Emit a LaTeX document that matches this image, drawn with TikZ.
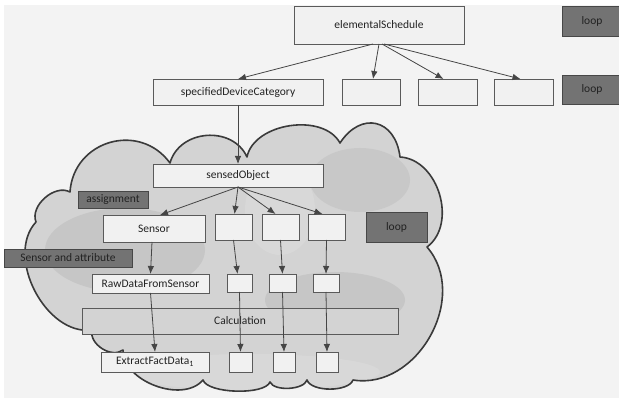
\documentclass[tikz,border=0pt]{standalone}
\usepackage{fontspec}
\setmainfont{Carlito}
\usetikzlibrary{arrows.meta}
\definecolor{bg}{HTML}{F3F3F3}
\definecolor{cloudfill}{HTML}{D3D3D3}
\definecolor{cloudline}{HTML}{3A3A3A}
\definecolor{blobdark}{HTML}{BCBCBC}
\definecolor{bloblight}{HTML}{DCDCDC}
\definecolor{boxfill}{HTML}{F1F1F1}
\definecolor{boxline}{HTML}{5A5A5A}
\definecolor{calcfill}{HTML}{D3D3D3}
\definecolor{darkfill}{HTML}{737373}
\definecolor{darkline}{HTML}{474747}
\definecolor{arrowcol}{HTML}{454545}
\definecolor{txt}{HTML}{222222}
\begin{document}
\begin{tikzpicture}[x=1pt,y=-1pt,
  font=\fontsize{11.5}{13}\selectfont,
  lbox/.style={draw=boxline, fill=boxfill, line width=0.8pt, inner sep=0pt, outer sep=0pt, text=txt},
  calcbox/.style={lbox, fill=calcfill},
  dbox/.style={draw=darkline, fill=darkfill, line width=0.8pt, inner sep=0pt, outer sep=0pt, text=txt},
  arr/.style={draw=arrowcol, line width=0.8pt, -{Latex[length=8pt,width=6.5pt]}},
  lobe/.style={bend left=70, looseness=#1}
]
\useasboundingbox (0,0) rectangle (619,398);
\fill[white] (0,0) rectangle (619,398);
\fill[bg] (4,5) rectangle (619,398);

% cloud
\def\cloudpath{(70,192) to[lobe=1.27] (170,163) to[lobe=1.16] (247,157)
  to[lobe=0.95] (340,143) to[lobe=1.6] (400,157) to[lobe=1.05] (427,247)
  to[lobe=1.1] (353,380) to[lobe=0.72] (307,380) to[lobe=0.72] (270,382)
  to[lobe=0.55] (203,380) to[lobe=0.94] (123,350) to[lobe=1.0] (92,330)
  to[lobe=0.98] (36,222) to[lobe=0.98] (70,192) -- cycle}
\fill[cloudfill] \cloudpath;
\begin{scope}
  \clip \cloudpath;
  \fill[blobdark, opacity=0.55] (125,250) ellipse (80pt and 42pt);
  \fill[blobdark, opacity=0.45] (360,180) ellipse (50pt and 32pt);
  \fill[blobdark, opacity=0.55] (335,300) ellipse (70pt and 28pt);
  \fill[bloblight, opacity=0.6] (280,210) ellipse (35pt and 45pt);
  \fill[bloblight, opacity=0.6] (250,372) ellipse (130pt and 18pt);
\end{scope}
\draw[cloudline, line width=1.6pt, line join=round] \cloudpath;

% top level
\node[lbox, minimum width=170pt, minimum height=38pt] (es) at (379,25) {elementalSchedule};
\node[dbox, minimum width=60pt, minimum height=30pt] (loopa) at (592,21) {loop};
\node[lbox, minimum width=170pt, minimum height=26pt] (sdc) at (238,92) {specifiedDeviceCategory};
\node[lbox, minimum width=58pt, minimum height=26pt] (b2) at (371,92) {};
\node[lbox, minimum width=59pt, minimum height=26pt] (b3) at (447.5,92) {};
\node[lbox, minimum width=59pt, minimum height=26pt] (b4) at (523.5,92) {};
\node[dbox, minimum width=60pt, minimum height=29pt] (loopb) at (592,89.5) {loop};

% inside the cloud
\node[lbox, minimum width=170pt, minimum height=23pt] (so) at (238,175.5) {sensedObject};
\node[dbox, minimum width=70pt, minimum height=17pt] (assign) at (113,199.5) {assignment};
\node[lbox, minimum width=102pt, minimum height=27pt] (sensor) at (154,228.5) {Sensor};
\node[lbox, minimum width=37pt, minimum height=26pt] (c1) at (233.5,227) {};
\node[lbox, minimum width=37pt, minimum height=26pt] (c2) at (280.5,227) {};
\node[lbox, minimum width=37pt, minimum height=26pt] (c3) at (326.5,227) {};
\node[dbox, minimum width=61pt, minimum height=30pt] (loopc) at (396.5,227) {loop};
\node[dbox, minimum width=128pt, minimum height=18pt] (saa) at (68,258) {Sensor and attribute};
\node[lbox, minimum width=117pt, minimum height=19pt] (raw) at (150.5,283.5) {RawDataFromSensor};
\node[lbox, minimum width=25pt, minimum height=18pt] (r1) at (239.5,283) {};
\node[lbox, minimum width=27pt, minimum height=18pt] (r2) at (282.5,283) {};
\node[lbox, minimum width=26pt, minimum height=18pt] (r3) at (326,283) {};
\node[calcbox, minimum width=316pt, minimum height=26pt] (calc) at (240,321) {Calculation};
\node[lbox, minimum width=108pt, minimum height=20pt] (ext) at (155,362) {ExtractFactData\textsubscript{1}};
\node[lbox, minimum width=23pt, minimum height=20pt] (e1) at (240.5,362) {};
\node[lbox, minimum width=22pt, minimum height=20pt] (e2) at (284,362) {};
\node[lbox, minimum width=22pt, minimum height=20pt] (e3) at (327,362) {};

% connectors
\draw[arr] ([xshift=-6pt]es.south) -- (sdc.north);
\draw[arr] (es.south) -- ([xshift=2pt]b2.north);
\draw[arr] ([xshift=3pt]es.south) -- ([xshift=-4pt]b3.north);
\draw[arr] ([xshift=5pt]es.south) -- ([xshift=-3pt]b4.north);
\draw[arr] (sdc.south) -- (so.north);
\draw[arr] (so.south) -- ([xshift=6pt]sensor.north);
\draw[arr] (so.south) -- ([xshift=1pt]c1.north);
\draw[arr] (so.south) -- ([xshift=-5pt]c2.north);
\draw[arr] (so.south) -- ([xshift=-4pt]c3.north);
\draw[arr] ([xshift=-2pt]sensor.south) -- (raw.north);
\draw[arr] (c1.south) -- ([xshift=-2pt]r1.north);
\draw[arr] (c2.south) -- (r2.north);
\draw[arr] (c3.south) -- (r3.north);
\draw[arr] (raw.south) -- (ext.north);
\draw[arr] (r1.south) -- (e1.north);
\draw[arr] (r2.south) -- (e2.north);
\draw[arr] (r3.south) -- (e3.north);
\end{tikzpicture}
\end{document}
